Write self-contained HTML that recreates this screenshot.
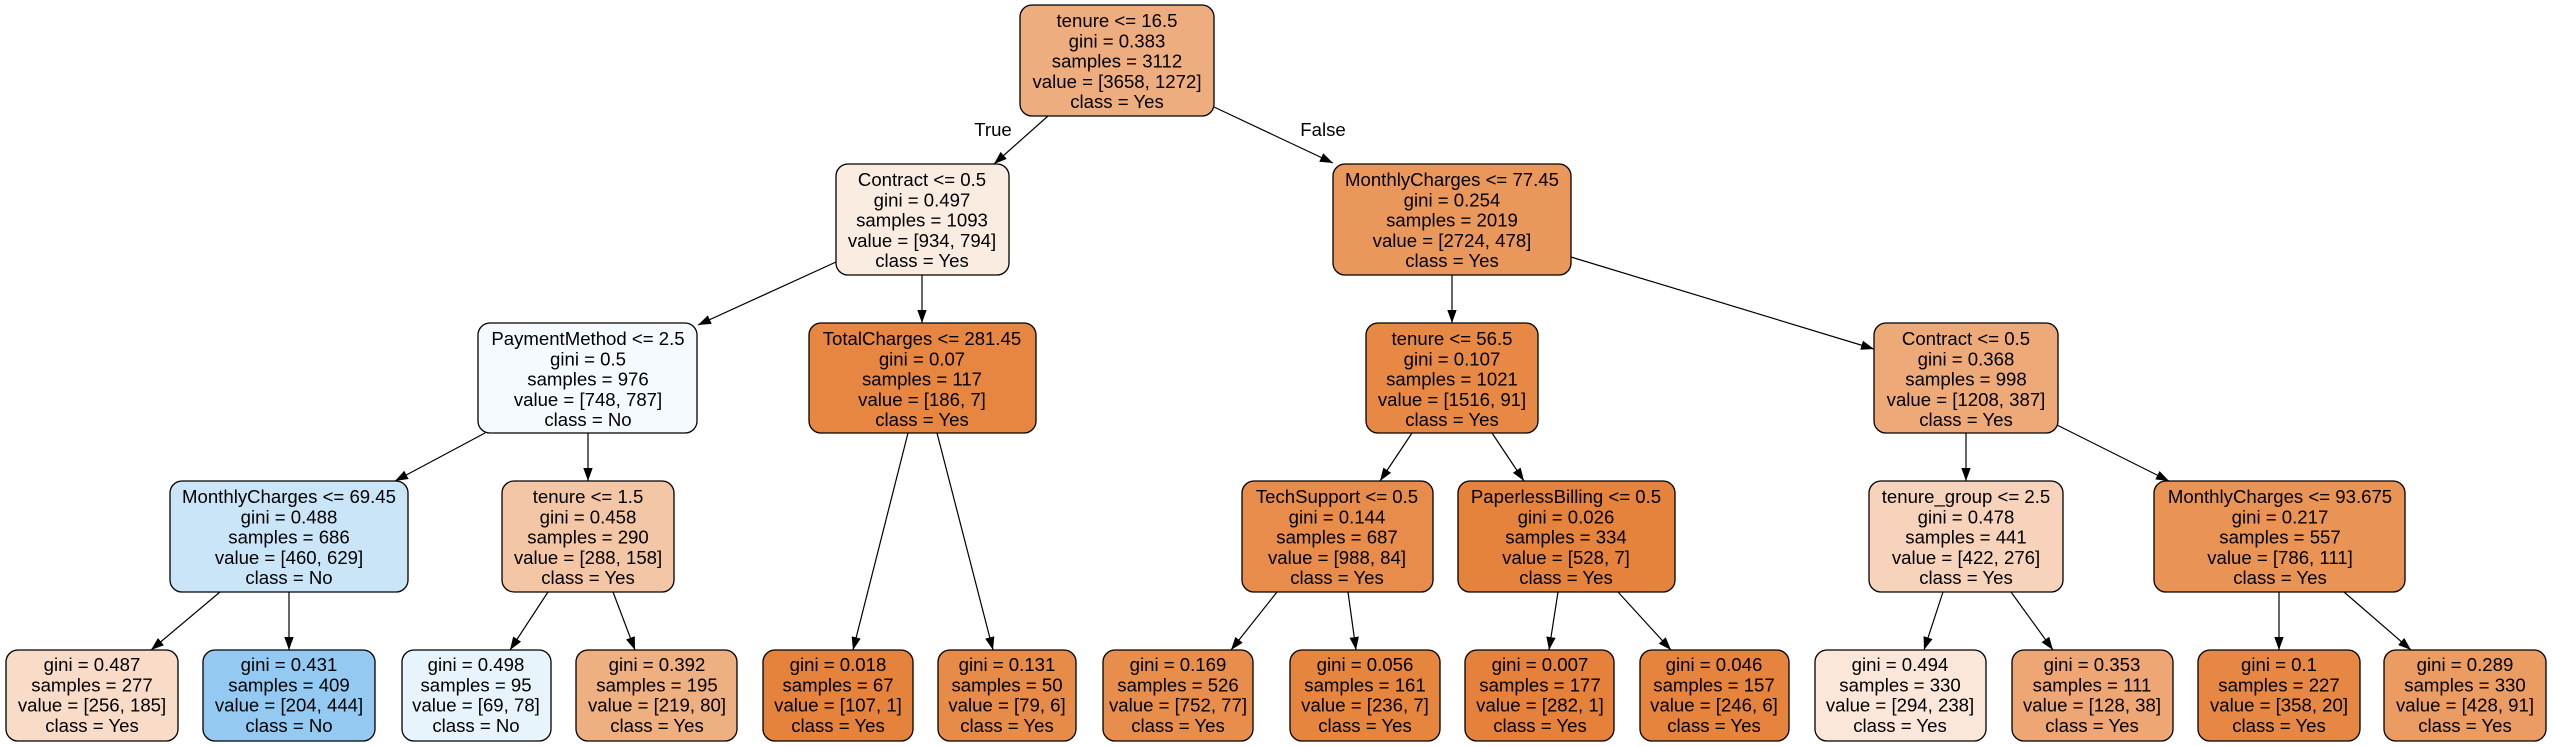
<!DOCTYPE html>
<html><head><meta charset="utf-8"><style>
html,body{margin:0;padding:0;background:#fff;}
svg{display:block;}
text{font-family:"Liberation Sans",Arial,sans-serif;font-size:18.6px;fill:#000;text-anchor:middle;}
rect{stroke:#000;stroke-width:1.3;}
line{stroke:#000;stroke-width:1.2;}
</style></head><body>
<svg width="2553" height="746" viewBox="0 0 2553 746" xmlns="http://www.w3.org/2000/svg">
<defs><marker id="a" markerWidth="14" markerHeight="10" refX="13" refY="4.7" orient="auto" markerUnits="userSpaceOnUse"><path d="M0,0 L13,4.7 L0,9.4 z" fill="#000"/></marker></defs>

<!-- edges -->
<g marker-end="url(#a)">
<line x1="1048" y1="116" x2="994" y2="164" marker-end="url(#a)"/>
<line x1="1214" y1="107" x2="1333" y2="163" marker-end="url(#a)"/>
<line x1="836" y1="262" x2="698" y2="325" marker-end="url(#a)"/>
<line x1="922" y1="275" x2="922" y2="323" marker-end="url(#a)"/>
<line x1="485" y1="433" x2="395" y2="481" marker-end="url(#a)"/>
<line x1="588" y1="433" x2="588" y2="481" marker-end="url(#a)"/>
<line x1="908" y1="433" x2="853" y2="650" marker-end="url(#a)"/>
<line x1="937" y1="433" x2="993" y2="650" marker-end="url(#a)"/>
<line x1="220" y1="592" x2="151" y2="650" marker-end="url(#a)"/>
<line x1="289" y1="592" x2="289" y2="650" marker-end="url(#a)"/>
<line x1="548" y1="592" x2="510" y2="650" marker-end="url(#a)"/>
<line x1="613" y1="592" x2="635" y2="650" marker-end="url(#a)"/>
<line x1="1452" y1="275" x2="1452" y2="323" marker-end="url(#a)"/>
<line x1="1571" y1="257" x2="1874" y2="349" marker-end="url(#a)"/>
<line x1="1412" y1="433" x2="1380" y2="481" marker-end="url(#a)"/>
<line x1="1492" y1="433" x2="1524" y2="481" marker-end="url(#a)"/>
<line x1="1966" y1="433" x2="1966" y2="481" marker-end="url(#a)"/>
<line x1="2057" y1="425" x2="2169" y2="481" marker-end="url(#a)"/>
<line x1="1277" y1="592" x2="1231" y2="650" marker-end="url(#a)"/>
<line x1="1348" y1="592" x2="1356" y2="650" marker-end="url(#a)"/>
<line x1="1558" y1="592" x2="1549" y2="650" marker-end="url(#a)"/>
<line x1="1618" y1="592" x2="1671" y2="650" marker-end="url(#a)"/>
<line x1="1943" y1="592" x2="1924" y2="650" marker-end="url(#a)"/>
<line x1="2011" y1="592" x2="2053" y2="650" marker-end="url(#a)"/>
<line x1="2279" y1="592" x2="2279" y2="650" marker-end="url(#a)"/>
<line x1="2344" y1="592" x2="2411" y2="650" marker-end="url(#a)"/>
</g>
<text x="993" y="136">True</text>
<text x="1323" y="136">False</text>

<!-- row 0 -->
<rect x="1020" y="5" width="194" height="111" rx="12" fill="#eead7e"/>
<text y="27"><tspan x="1117">tenure &lt;= 16.5</tspan><tspan x="1117" dy="20.3">gini = 0.383</tspan><tspan x="1117" dy="20.3">samples = 3112</tspan><tspan x="1117" dy="20.3">value = [3658, 1272]</tspan><tspan x="1117" dy="20.3">class = Yes</tspan></text>

<!-- row 1 -->
<rect x="836" y="164" width="173" height="111" rx="12" fill="#fbece1"/>
<text y="186"><tspan x="922">Contract &lt;= 0.5</tspan><tspan x="922" dy="20.3">gini = 0.497</tspan><tspan x="922" dy="20.3">samples = 1093</tspan><tspan x="922" dy="20.3">value = [934, 794]</tspan><tspan x="922" dy="20.3">class = Yes</tspan></text>
<rect x="1333" y="164" width="238" height="111" rx="12" fill="#ea975c"/>
<text y="186"><tspan x="1452">MonthlyCharges &lt;= 77.45</tspan><tspan x="1452" dy="20.3">gini = 0.254</tspan><tspan x="1452" dy="20.3">samples = 2019</tspan><tspan x="1452" dy="20.3">value = [2724, 478]</tspan><tspan x="1452" dy="20.3">class = Yes</tspan></text>

<!-- row 2 -->
<rect x="478" y="323" width="219" height="110" rx="12" fill="#f5fafe"/>
<text y="345"><tspan x="588">PaymentMethod &lt;= 2.5</tspan><tspan x="588" dy="20.3">gini = 0.5</tspan><tspan x="588" dy="20.3">samples = 976</tspan><tspan x="588" dy="20.3">value = [748, 787]</tspan><tspan x="588" dy="20.3">class = No</tspan></text>
<rect x="809" y="323" width="227" height="110" rx="12" fill="#e68640"/>
<text y="345"><tspan x="922">TotalCharges &lt;= 281.45</tspan><tspan x="922" dy="20.3">gini = 0.07</tspan><tspan x="922" dy="20.3">samples = 117</tspan><tspan x="922" dy="20.3">value = [186, 7]</tspan><tspan x="922" dy="20.3">class = Yes</tspan></text>
<rect x="1366" y="323" width="172" height="110" rx="12" fill="#e78945"/>
<text y="345"><tspan x="1452">tenure &lt;= 56.5</tspan><tspan x="1452" dy="20.3">gini = 0.107</tspan><tspan x="1452" dy="20.3">samples = 1021</tspan><tspan x="1452" dy="20.3">value = [1516, 91]</tspan><tspan x="1452" dy="20.3">class = Yes</tspan></text>
<rect x="1874" y="323" width="184" height="110" rx="12" fill="#eda978"/>
<text y="345"><tspan x="1966">Contract &lt;= 0.5</tspan><tspan x="1966" dy="20.3">gini = 0.368</tspan><tspan x="1966" dy="20.3">samples = 998</tspan><tspan x="1966" dy="20.3">value = [1208, 387]</tspan><tspan x="1966" dy="20.3">class = Yes</tspan></text>

<!-- row 3 -->
<rect x="170" y="481" width="238" height="111" rx="12" fill="#cae5f8"/>
<text y="503"><tspan x="289">MonthlyCharges &lt;= 69.45</tspan><tspan x="289" dy="20.3">gini = 0.488</tspan><tspan x="289" dy="20.3">samples = 686</tspan><tspan x="289" dy="20.3">value = [460, 629]</tspan><tspan x="289" dy="20.3">class = No</tspan></text>
<rect x="502" y="481" width="172" height="111" rx="12" fill="#f3c6a6"/>
<text y="503"><tspan x="588">tenure &lt;= 1.5</tspan><tspan x="588" dy="20.3">gini = 0.458</tspan><tspan x="588" dy="20.3">samples = 290</tspan><tspan x="588" dy="20.3">value = [288, 158]</tspan><tspan x="588" dy="20.3">class = Yes</tspan></text>
<rect x="1242" y="481" width="191" height="111" rx="12" fill="#e78c4a"/>
<text y="503"><tspan x="1337">TechSupport &lt;= 0.5</tspan><tspan x="1337" dy="20.3">gini = 0.144</tspan><tspan x="1337" dy="20.3">samples = 687</tspan><tspan x="1337" dy="20.3">value = [988, 84]</tspan><tspan x="1337" dy="20.3">class = Yes</tspan></text>
<rect x="1458" y="481" width="217" height="111" rx="12" fill="#e5823b"/>
<text y="503"><tspan x="1566">PaperlessBilling &lt;= 0.5</tspan><tspan x="1566" dy="20.3">gini = 0.026</tspan><tspan x="1566" dy="20.3">samples = 334</tspan><tspan x="1566" dy="20.3">value = [528, 7]</tspan><tspan x="1566" dy="20.3">class = Yes</tspan></text>
<rect x="1869" y="481" width="194" height="111" rx="12" fill="#f6d3ba"/>
<text y="503"><tspan x="1966">tenure_group &lt;= 2.5</tspan><tspan x="1966" dy="20.3">gini = 0.478</tspan><tspan x="1966" dy="20.3">samples = 441</tspan><tspan x="1966" dy="20.3">value = [422, 276]</tspan><tspan x="1966" dy="20.3">class = Yes</tspan></text>
<rect x="2154" y="481" width="251" height="111" rx="12" fill="#e99355"/>
<text y="503"><tspan x="2280">MonthlyCharges &lt;= 93.675</tspan><tspan x="2280" dy="20.3">gini = 0.217</tspan><tspan x="2280" dy="20.3">samples = 557</tspan><tspan x="2280" dy="20.3">value = [786, 111]</tspan><tspan x="2280" dy="20.3">class = Yes</tspan></text>

<!-- row 4 leaves -->
<rect x="6" y="650" width="172" height="91" rx="12" fill="#f8dcc8"/>
<text y="671"><tspan x="92">gini = 0.487</tspan><tspan x="92" dy="20.3">samples = 277</tspan><tspan x="92" dy="20.3">value = [256, 185]</tspan><tspan x="92" dy="20.3">class = Yes</tspan></text>
<rect x="203" y="650" width="172" height="91" rx="12" fill="#94caf1"/>
<text y="671"><tspan x="289">gini = 0.431</tspan><tspan x="289" dy="20.3">samples = 409</tspan><tspan x="289" dy="20.3">value = [204, 444]</tspan><tspan x="289" dy="20.3">class = No</tspan></text>
<rect x="402" y="650" width="149" height="91" rx="12" fill="#e8f4fc"/>
<text y="671"><tspan x="476">gini = 0.498</tspan><tspan x="476" dy="20.3">samples = 95</tspan><tspan x="476" dy="20.3">value = [69, 78]</tspan><tspan x="476" dy="20.3">class = No</tspan></text>
<rect x="576" y="650" width="161" height="91" rx="12" fill="#eeaf81"/>
<text y="671"><tspan x="657">gini = 0.392</tspan><tspan x="657" dy="20.3">samples = 195</tspan><tspan x="657" dy="20.3">value = [219, 80]</tspan><tspan x="657" dy="20.3">class = Yes</tspan></text>
<rect x="763" y="650" width="150" height="91" rx="12" fill="#e5823b"/>
<text y="671"><tspan x="838">gini = 0.018</tspan><tspan x="838" dy="20.3">samples = 67</tspan><tspan x="838" dy="20.3">value = [107, 1]</tspan><tspan x="838" dy="20.3">class = Yes</tspan></text>
<rect x="938" y="650" width="138" height="91" rx="12" fill="#e78b48"/>
<text y="671"><tspan x="1007">gini = 0.131</tspan><tspan x="1007" dy="20.3">samples = 50</tspan><tspan x="1007" dy="20.3">value = [79, 6]</tspan><tspan x="1007" dy="20.3">class = Yes</tspan></text>
<rect x="1103" y="650" width="150" height="91" rx="12" fill="#e88e4d"/>
<text y="671"><tspan x="1178">gini = 0.169</tspan><tspan x="1178" dy="20.3">samples = 526</tspan><tspan x="1178" dy="20.3">value = [752, 77]</tspan><tspan x="1178" dy="20.3">class = Yes</tspan></text>
<rect x="1290" y="650" width="150" height="91" rx="12" fill="#e6853e"/>
<text y="671"><tspan x="1365">gini = 0.056</tspan><tspan x="1365" dy="20.3">samples = 161</tspan><tspan x="1365" dy="20.3">value = [236, 7]</tspan><tspan x="1365" dy="20.3">class = Yes</tspan></text>
<rect x="1465" y="650" width="149" height="91" rx="12" fill="#e5813a"/>
<text y="671"><tspan x="1540">gini = 0.007</tspan><tspan x="1540" dy="20.3">samples = 177</tspan><tspan x="1540" dy="20.3">value = [282, 1]</tspan><tspan x="1540" dy="20.3">class = Yes</tspan></text>
<rect x="1640" y="650" width="149" height="91" rx="12" fill="#e6843e"/>
<text y="671"><tspan x="1714">gini = 0.046</tspan><tspan x="1714" dy="20.3">samples = 157</tspan><tspan x="1714" dy="20.3">value = [246, 6]</tspan><tspan x="1714" dy="20.3">class = Yes</tspan></text>
<rect x="1815" y="650" width="171" height="91" rx="12" fill="#fae7d9"/>
<text y="671"><tspan x="1900">gini = 0.494</tspan><tspan x="1900" dy="20.3">samples = 330</tspan><tspan x="1900" dy="20.3">value = [294, 238]</tspan><tspan x="1900" dy="20.3">class = Yes</tspan></text>
<rect x="2012" y="650" width="161" height="91" rx="12" fill="#eda674"/>
<text y="671"><tspan x="2092">gini = 0.353</tspan><tspan x="2092" dy="20.3">samples = 111</tspan><tspan x="2092" dy="20.3">value = [128, 38]</tspan><tspan x="2092" dy="20.3">class = Yes</tspan></text>
<rect x="2198" y="650" width="162" height="91" rx="12" fill="#e68844"/>
<text y="671"><tspan x="2279">gini = 0.1</tspan><tspan x="2279" dy="20.3">samples = 227</tspan><tspan x="2279" dy="20.3">value = [358, 20]</tspan><tspan x="2279" dy="20.3">class = Yes</tspan></text>
<rect x="2384" y="650" width="162" height="91" rx="12" fill="#eb9c63"/>
<text y="671"><tspan x="2465">gini = 0.289</tspan><tspan x="2465" dy="20.3">samples = 330</tspan><tspan x="2465" dy="20.3">value = [428, 91]</tspan><tspan x="2465" dy="20.3">class = Yes</tspan></text>
</svg>
</body></html>
